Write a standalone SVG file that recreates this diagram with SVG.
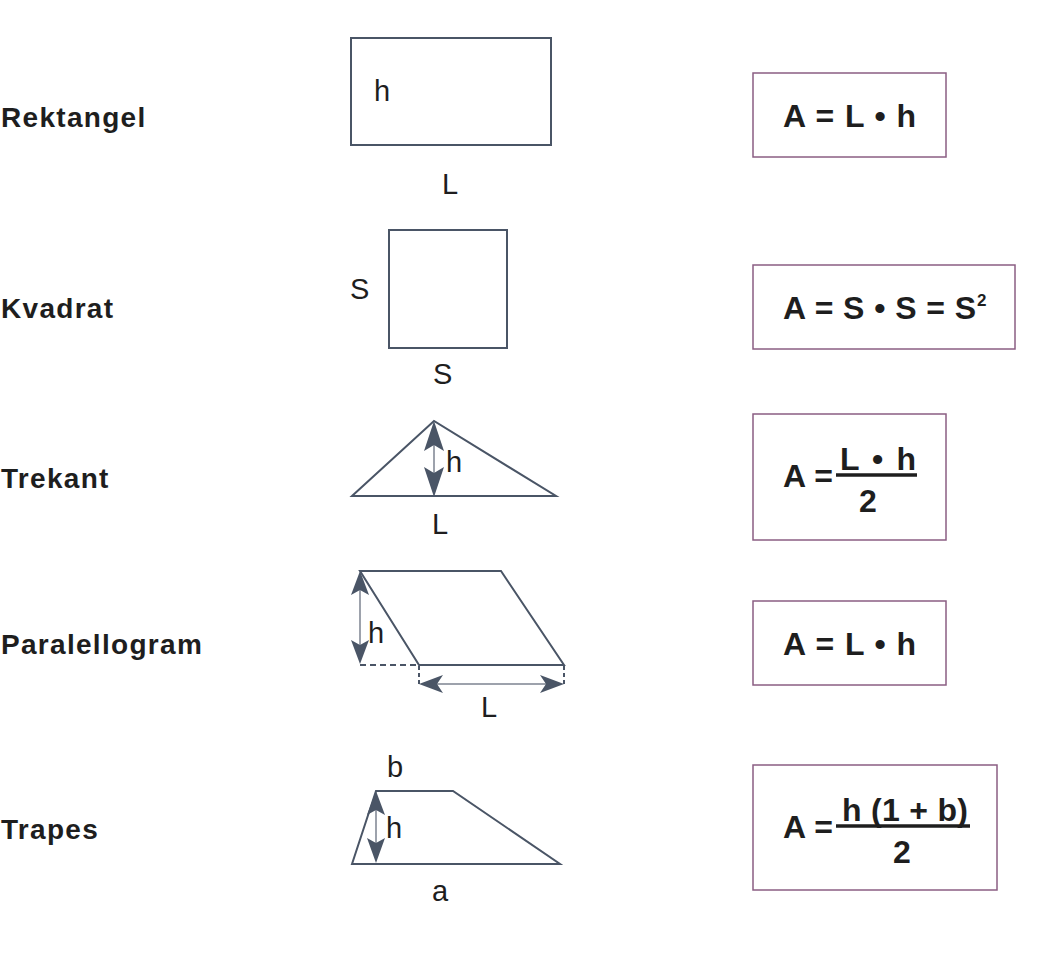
<svg xmlns="http://www.w3.org/2000/svg" width="1051" height="956" viewBox="0 0 1051 956">
<style>
.lbl{font-family:"Liberation Sans",Arial,sans-serif;font-weight:bold;font-size:28px;letter-spacing:1.3px;fill:#1e1e1e}
.dim{font-family:"Liberation Sans",Arial,sans-serif;font-size:29px;fill:#1e1e1e}
.f{font-family:"Liberation Sans",Arial,sans-serif;font-weight:bold;font-size:32px;fill:#1e1e1e}
.shape{fill:none;stroke:#4a5566;stroke-width:2}
.box{fill:none;stroke:#8b5e83;stroke-width:1.5}
.fl{stroke:#1e1e1e;stroke-width:3.5}
.thin{stroke:#7d8390;stroke-width:1.5;fill:none}
.head{fill:#4a5566}
.dash{stroke:#4a5566;stroke-width:2;stroke-dasharray:6 4;fill:none}
</style>
<rect width="1051" height="956" fill="#ffffff"/>

<g id="rektangel">
<text class="lbl" x="1" y="127">Rektangel</text>
<rect class="shape" x="351" y="38" width="200" height="107"/>
<text class="dim" x="374" y="101">h</text>
<text class="dim" x="442" y="194">L</text>
</g>

<g id="kvadrat">
<text class="lbl" x="1" y="318">Kvadrat</text>
<rect class="shape" x="389" y="230" width="118" height="118"/>
<text class="dim" x="350" y="299">S</text>
<text class="dim" x="433" y="384">S</text>
</g>

<g id="trekant">
<text class="lbl" x="1" y="488">Trekant</text>
<polygon class="shape" points="352,496 434,421 556,496"/>
<text class="dim" x="446" y="472">h</text>
<text class="dim" x="432" y="534">L</text>
</g>

<g id="paralellogram">
<text class="lbl" x="1" y="654">Paralellogram</text>
<polygon class="shape" points="360,571 501,571 564,665 419,665"/>
<line class="dash" x1="360" y1="665" x2="419" y2="665"/>
<text class="dim" x="368" y="643">h</text>
<text class="dim" x="481" y="717">L</text>
</g>

<g id="trapes">
<text class="lbl" x="1" y="839">Trapes</text>
<polygon class="shape" points="352,864 376,791 453,791 560,864"/>
<text class="dim" x="386" y="838">h</text>
<text class="dim" x="387" y="777">b</text>
<text class="dim" x="432" y="901">a</text>
</g>

<g id="connectors">
<line class="thin" x1="434" y1="440" x2="434" y2="478"/>
<path class="head" d="M434,421 L444,451 L434,445 L424,451 Z"/>
<path class="head" d="M434,497 L444,467 L434,473 L424,467 Z"/>

<line class="thin" x1="360" y1="590" x2="360" y2="646"/>
<path class="head" d="M360,571 L369,595 L360,590 L351,595 Z"/>
<path class="head" d="M360,664 L369,640 L360,645 L351,640 Z"/>

<line class="dash" x1="419" y1="666" x2="419" y2="686" style="stroke-dasharray:4 3"/>
<line class="dash" x1="564" y1="666" x2="564" y2="686" style="stroke-dasharray:4 3"/>
<line class="thin" x1="436" y1="684" x2="547" y2="684"/>
<path class="head" d="M419,684 L443,675 L437,684 L443,693 Z"/>
<path class="head" d="M564,684 L540,675 L546,684 L540,693 Z"/>

<line class="thin" x1="376" y1="808" x2="376" y2="846"/>
<path class="head" d="M376,791 L385,815 L376,810 L367,815 Z"/>
<path class="head" d="M376,863 L385,838 L376,843 L367,838 Z"/>
</g>

<g id="formel-rektangel">
<rect class="box" x="753" y="73" width="193" height="84"/>
<text class="f" x="783" y="127" textLength="133" lengthAdjust="spacing">A = L • h</text>
</g>

<g id="formel-kvadrat">
<rect class="box" x="753" y="265" width="262" height="84"/>
<text class="f" x="783" y="319" textLength="193" lengthAdjust="spacing">A = S • S = S</text>
<text class="f" x="977" y="306" style="font-size:17px">2</text>
</g>

<g id="formel-trekant">
<rect class="box" x="753" y="414" width="193" height="126"/>
<text class="f" x="783" y="487" textLength="50" lengthAdjust="spacing">A =</text>
<text class="f" x="840" y="470" textLength="76" lengthAdjust="spacing">L • h</text>
<line class="fl" x1="836" y1="475" x2="917" y2="475"/>
<text class="f" x="868" y="512" text-anchor="middle">2</text>
</g>

<g id="formel-paralellogram">
<rect class="box" x="753" y="601" width="193" height="84"/>
<text class="f" x="783" y="655" textLength="133" lengthAdjust="spacing">A = L • h</text>
</g>

<g id="formel-trapes">
<rect class="box" x="753" y="765" width="244" height="125"/>
<text class="f" x="783" y="838" textLength="50" lengthAdjust="spacing">A =</text>
<text class="f" x="842" y="821" textLength="126" lengthAdjust="spacing">h (1 + b)</text>
<line class="fl" x1="836" y1="826" x2="970" y2="826"/>
<text class="f" x="902" y="863" text-anchor="middle">2</text>
</g>
</svg>
